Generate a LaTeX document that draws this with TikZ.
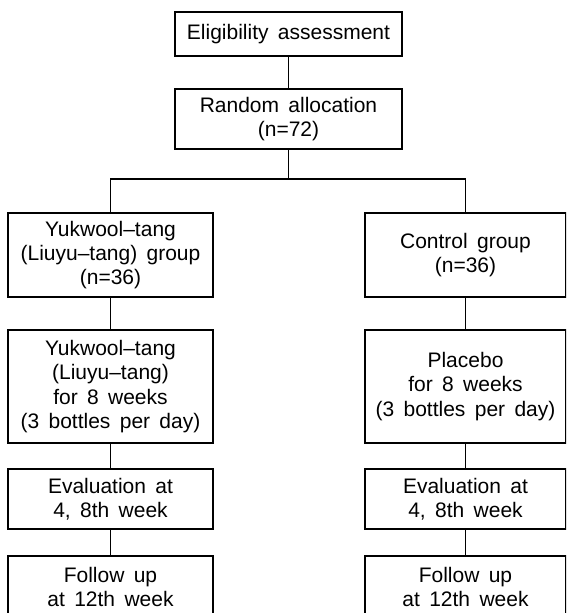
\documentclass[tikz,border=0pt]{standalone}
\usepackage{fontspec}
\setmainfont[WordSpace=1.6]{Liberation Sans}
\begin{document}
\begin{tikzpicture}[x=1pt,y=1pt,
  box/.style={draw, line width=1.1pt, align=center, inner sep=0pt,
    font=\fontsize{21}{24.3}\selectfont},
  conn/.style={line width=1.1pt}]
\clip (0,0) rectangle (566,-613);
\fill[white] (0,0) rectangle (566,-613);
% top
\node[box, minimum width=227, minimum height=44] (E) at (288.5,-34) {Eligibility assessment};
\node[box, minimum width=227, minimum height=60] (R) at (288.5,-119) {Random allocation\\(n=72)};
\coordinate (split) at (288.5,-179);
% left column
\node[box, minimum width=205, minimum height=84] (L1) at (110.5,-255) {Yukwool–tang\\(Liuyu–tang) group\\(n=36)};
\node[box, minimum width=205, minimum height=113] (L2) at (110.5,-386.5) {Yukwool–tang\\(Liuyu–tang)\\for 8 weeks\\(3 bottles per day)};
\node[box, minimum width=205, minimum height=60] (L3) at (110.5,-499) {Evaluation at\\4, 8th week};
\node[box, minimum width=205, minimum height=62] (L4) at (110.5,-587) {Follow up\\at 12th week};
% right column
\node[box, minimum width=201, minimum height=84] (R1) at (465.5,-255) {Control group\\(n=36)};
\node[box, minimum width=201, minimum height=113] (R2) at (465.5,-386.5) {Placebo\\for 8 weeks\\(3 bottles per day)};
\node[box, minimum width=201, minimum height=60] (R3) at (465.5,-499) {Evaluation at\\4, 8th week};
\node[box, minimum width=201, minimum height=62] (R4) at (465.5,-587) {Follow up\\at 12th week};
% connectors
\draw[conn] (E.south) -- (R.north);
\draw[conn] (R.south) -- (split);
\draw[conn] (L1.north) |- (split) -| (R1.north);
\draw[conn] (L1.south) -- (L2.north);
\draw[conn] (L2.south) -- (L3.north);
\draw[conn] (L3.south) -- (L4.north);
\draw[conn] (R1.south) -- (R2.north);
\draw[conn] (R2.south) -- (R3.north);
\draw[conn] (R3.south) -- (R4.north);
\end{tikzpicture}
\end{document}
